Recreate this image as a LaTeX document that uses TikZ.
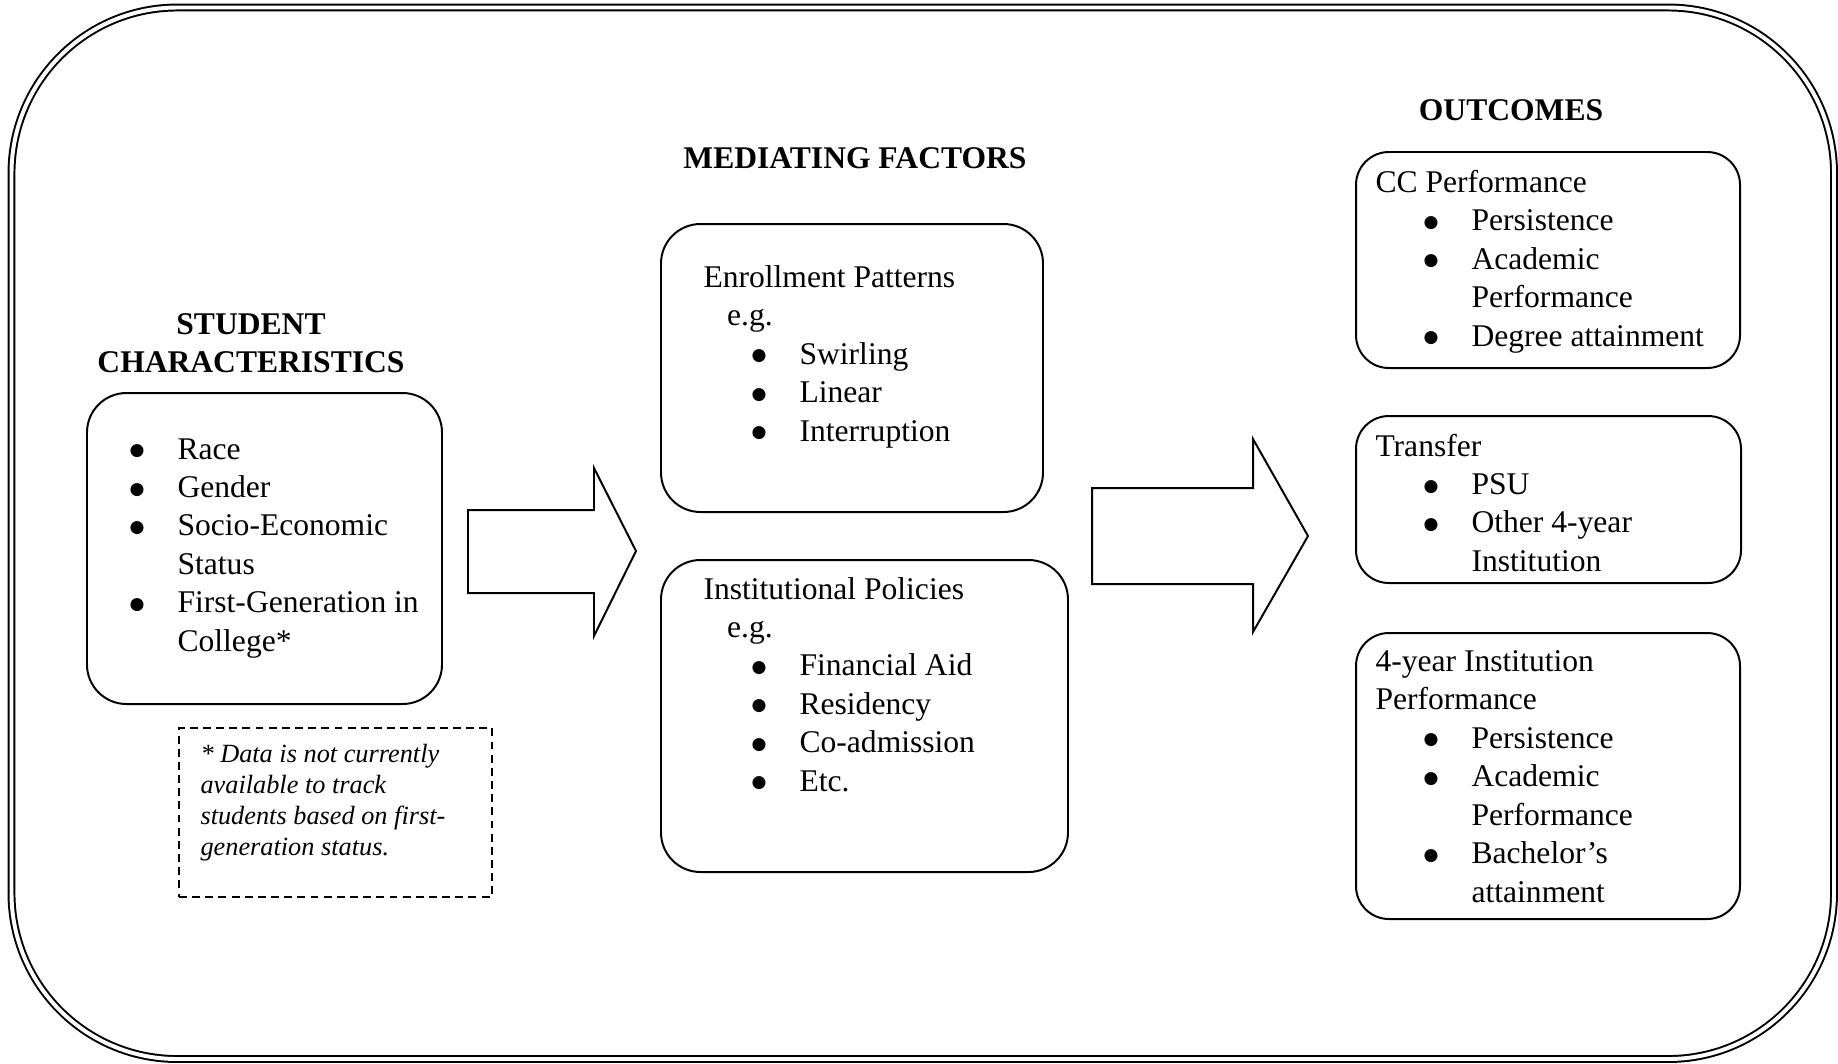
\documentclass[tikz,border=0pt]{standalone}
\usepackage{fontspec}
\setmainfont{Liberation Serif}
\newfontfamily\dotfont{DejaVu Sans}
\usetikzlibrary{fit}
\newcommand{\bit}[1]{\makebox[36.5pt][l]{\hspace*{15pt}\makebox[12.2pt]{\raisebox{1.3pt}{\dotfont\fontsize{6.5}{6.5}\selectfont ●}}}#1}
\newcommand{\cont}[1]{\hspace*{36.5pt}#1}
\newcommand{\lines}[1]{\parbox[t]{70mm}{#1}}
\begin{document}
\begin{tikzpicture}[x=0.38pt, y=-0.38pt,
  box/.style={draw, line width=0.75pt, rounded corners=15pt, inner sep=0pt},
  smallbox/.style={box, rounded corners=12.5pt},
  txt/.style={anchor=base west, inner sep=0pt, font=\fontsize{12}{14.6}\selectfont},
  hdr/.style={anchor=base, inner sep=0pt, font=\bfseries\fontsize{12}{14.6}\selectfont}]
\useasboundingbox (0,0) rectangle (1838,1063);
\draw[double, line width=0.75pt, double distance=1.5pt, rounded corners=63pt] (11.5,7.5) rectangle (1834,1059);

\node[hdr] (studhdr) at (251,334.5) {\lines{\centering STUDENT\\ CHARACTERISTICS}};
\node[hdr] (medhdr) at (855,168.5) {MEDIATING FACTORS};
\node[hdr] (outhdr) at (1511,120) {OUTCOMES};

\node[box, fit={(87,393) (442,704)}] (stud) {};
\node[txt] (studtxt) at (81,459) {\lines{\bit{Race}\\ \bit{Gender}\\ \bit{Socio-Economic}\\ \cont{Status}\\ \bit{First-Generation in}\\ \cont{College*}}};
\node[draw, line width=0.75pt, dash pattern=on 3pt off 2pt, inner sep=0pt, fit={(179,728) (492,897)}] (note) {};
\node[anchor=base west, inner sep=0pt, font=\itshape\fontsize{10}{11.8}\selectfont] (notetxt) at (200,762) {\lines{* Data is not currently\\ available to track\\ students based on first-\\ generation status.}};

\draw[line width=0.75pt] (468,510) -- (594,510) -- (594,468) -- (636,551) -- (594,636) -- (594,593) -- (468,593) -- cycle;

\node[box, fit={(661,224) (1043,512)}] (enroll) {};
\node[txt] (enrolltxt) at (703,287.5) {\lines{Enrollment Patterns\\ \hspace*{9pt}e.g.\\ \bit{Swirling}\\ \bit{Linear}\\ \bit{Interruption}}};
\node[box, fit={(661,560) (1068,872)}] (policy) {};
\node[txt] (policytxt) at (703,599) {\lines{Institutional Policies\\ \hspace*{9pt}e.g.\\ \bit{Financial Aid}\\ \bit{Residency}\\ \bit{Co-admission}\\ \bit{Etc.}}};

\draw[line width=0.75pt] (1092,488) -- (1253,488) -- (1253,439) -- (1308,536) -- (1253,632) -- (1253,584) -- (1092,584) -- cycle;

\node[smallbox, fit={(1356,152) (1740,368)}] (cc) {};
\node[txt] (cctxt) at (1375,192.5) {\lines{CC Performance\\ \bit{Persistence}\\ \bit{Academic}\\ \cont{Performance}\\ \bit{Degree attainment}}};
\node[smallbox, fit={(1356,416) (1741,583)}] (transfer) {};
\node[txt] (transfertxt) at (1375,456) {\lines{Transfer\\ \bit{PSU}\\ \bit{Other 4-year}\\ \cont{Institution}}};
\node[smallbox, fit={(1356,633) (1740,919)}] (four) {};
\node[txt] (fourtxt) at (1375,671.5) {\lines{4-year Institution\\ Performance\\ \bit{Persistence}\\ \bit{Academic}\\ \cont{Performance}\\ \bit{Bachelor’s}\\ \cont{attainment}}};
\end{tikzpicture}
\end{document}
